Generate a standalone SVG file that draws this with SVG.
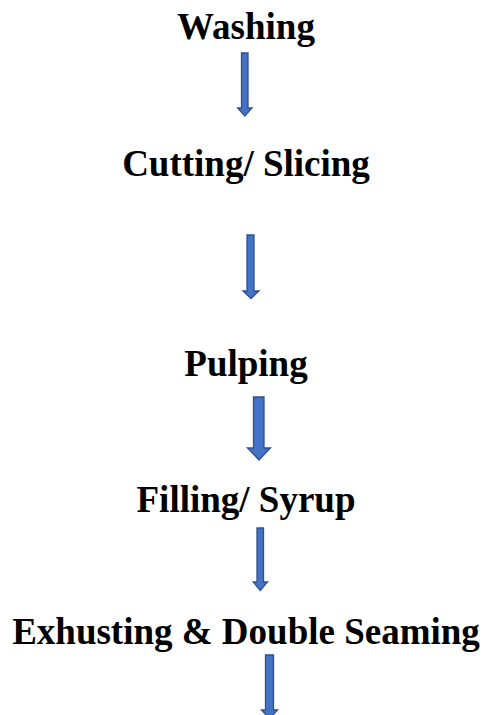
<svg xmlns="http://www.w3.org/2000/svg" width="485" height="715" viewBox="0 0 485 715">
  <style>
    .step { font-family: "Liberation Serif", "Times New Roman", serif; font-weight: bold; font-size: 37px; fill: #000; text-anchor: middle; }
    .arrow { fill: #4472C4; stroke: #2F528F; stroke-width: 1.3; stroke-linejoin: miter; }
  </style>
  <rect width="485" height="715" fill="#fff"/>

  <g id="washing"><text class="step" x="246" y="39">Washing</text></g>
  <g id="cutting-slicing"><text class="step" x="246" y="176">Cutting/ Slicing</text></g>
  <g id="pulping"><text class="step" x="246" y="376">Pulping</text></g>
  <g id="filling-syrup"><text class="step" x="246" y="512">Filling/ Syrup</text></g>
  <g id="exhusting-double-seaming"><text class="step" x="246" y="644">Exhusting &amp; Double Seaming</text></g>

  <g id="connectors">
    <!-- block arrows: shaft then triangular head -->
    <path class="arrow" d="M241.5,53 H248 V108 H252 L244.8,116 L237.6,108 H241.5 Z"/>
    <path class="arrow" d="M247,235 H254 V291 H259 L251,298.5 L243,291 H247 Z"/>
    <path class="arrow" d="M253.5,397 H264 V448 H270.5 L259,460 L247.5,448 H253.5 Z"/>
    <path class="arrow" d="M257,528 H263.5 V582 H267.5 L260.3,590.5 L253.2,582 H257 Z"/>
    <path class="arrow" d="M265.5,655 H273.5 V710 H277.5 L269.5,719 L261.5,710 H265.5 Z"/>
  </g>
</svg>
